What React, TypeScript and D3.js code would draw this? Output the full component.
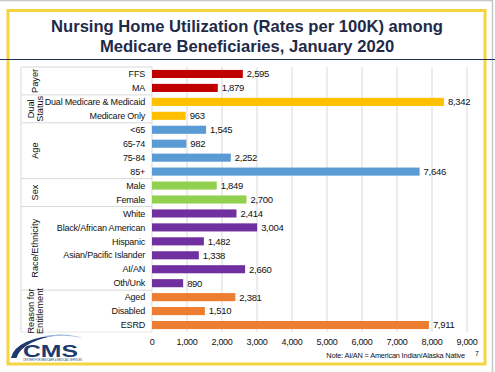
import React from "react";
import * as d3 from "d3";

const categories = [
  "FFS", "MA",
  "Dual Medicare & Medicaid", "Medicare Only",
  "<65", "65-74", "75-84", "85+",
  "Male", "Female",
  "White", "Black/African American", "Hispanic", "Asian/Pacific Islander", "AI/AN", "Oth/Unk",
  "Aged", "Disabled", "ESRD",
];
const values = [
  2595, 1879,
  8342, 963,
  1545, 982, 2252, 7646,
  1849, 2700,
  2414, 3004, 1482, 1338, 2660, 890,
  2381, 1510, 7911,
];
const groupNames = [["Payer"], ["Dual", "Status"], ["Age"], ["Sex"], ["Race/Ethnicity"], ["Reason for", "Entitlement"]];
const groupSizes = [2, 2, 4, 2, 6, 3];
const groupColors = ["#C00000", "#FFC000", "#5B9BD5", "#92D050", "#7030A0", "#ED7D31"];
const xTicks = [0, 1000, 2000, 3000, 4000, 5000, 6000, 7000, 8000, 9000];

const W = 495, H = 372;
const FONT = "'Liberation Sans', Arial, sans-serif";

export default function App() {
  const x = d3.scaleLinear().domain([0, 9000]).range([152, 467]);
  const y = d3.scaleBand<number>().domain(d3.range(categories.length)).range([67, 332]).paddingInner(0.42).paddingOuter(0.21);
  const step = y.step();
  const rowCenter = (i: number) => (y(i) as number) + y.bandwidth() / 2;
  const rowTop = (i: number) => rowCenter(i) - step / 2;

  const groupOf: number[] = [];
  const starts: number[] = [];
  let acc = 0;
  groupSizes.forEach((s, g) => { starts.push(acc); for (let k = 0; k < s; k++) groupOf.push(g); acc += s; });
  const fmt = d3.format(",");
  const tableLeft = 21;

  return (
    <svg width={W} height={H} style={{ position: "absolute", left: 0, top: 0 }} fontFamily={FONT}>
      <rect x={0} y={0} width={W} height={H} fill="#fff" />
      <line x1={0} y1={0.5} x2={493} y2={0.5} stroke="#c8c8c8" strokeWidth={1.5} />
      <line x1={492.5} y1={0} x2={492.5} y2={H} stroke="#c8c8c8" strokeWidth={1.5} />
      <rect x={8} y={10.5} width={477} height={353.5} fill="none" stroke="#F5D442" strokeWidth={3} />
      <line x1={0} y1={59.5} x2={495} y2={59.5} stroke="#1F3050" strokeWidth={1.2} />

      <text x={247} y={32} textAnchor="middle" fontWeight="bold" fontSize={16.6} fill="#1F2A48">Nursing Home Utilization (Rates per 100K) among</text>
      <text x={247} y={51.5} textAnchor="middle" fontWeight="bold" fontSize={16.6} fill="#1F2A48">Medicare Beneficiaries, January 2020</text>

      {xTicks.map((t) => (
        <line key={"g" + t} x1={x(t)} x2={x(t)} y1={67} y2={332} stroke="#D9D9D9" strokeWidth={1} />
      ))}

      {/* table lines */}
      <line x1={tableLeft} x2={tableLeft} y1={67} y2={332} stroke="#D9D9D9" />
      {starts.map((s, g) => (
        <line key={"h" + g} x1={tableLeft} x2={x(0)} y1={rowTop(s)} y2={rowTop(s)} stroke="#D9D9D9" />
      ))}
      <line x1={tableLeft} x2={x(0)} y1={332} y2={332} stroke="#E6E6E6" />

      {groupNames.map((lines, g) => {
        const s = starts[g];
        const e = s + groupSizes[g] - 1;
        const cy = (rowCenter(s) + rowCenter(e)) / 2;
        const cx = 35;
        return (
          <text key={"gn" + g} transform={`translate(${cx},${cy}) rotate(-90)`} textAnchor="middle" fontSize={9.2} fill="#111">
            {lines.map((l, k) => (
              <tspan key={k} x={0} dy={k === 0 ? (lines.length === 1 ? 3 : -1.5) : 9.5}>{l}</tspan>
            ))}
          </text>
        );
      })}

      {categories.map((c, i) => (
        <text key={"c" + i} x={145} y={rowCenter(i) + 3.2} textAnchor="end" fontSize={9} letterSpacing={-0.2} fill="#111">{c}</text>
      ))}

      {values.map((v, i) => (
        <g key={"b" + i}>
          <rect x={x(0)} y={y(i)} width={x(v) - x(0)} height={y.bandwidth()} fill={groupColors[groupOf[i]]} />
          <text x={x(v) + 4} y={rowCenter(i) + 3.4} fontSize={9.5} letterSpacing={-0.3} fill="#111">{fmt(v)}</text>
        </g>
      ))}

      {xTicks.map((t) => (
        <text key={"t" + t} x={x(t)} y={345} textAnchor="middle" fontSize={9} letterSpacing={-0.3} fill="#111">{fmt(t)}</text>
      ))}

      {/* CMS logo */}
      <path d="M 11 358 Q 15 338 62 334.5 Q 22 340 16.5 358 Z" fill="#1C3A6E" />
      <path d="M 44 336 Q 66 332 83 338 Q 64 334 48 337 Z" fill="#9DB9DC" />
      <text x={23} y={357.3} fontWeight="bold" fontSize={16} textLength={55} lengthAdjust="spacingAndGlyphs" fill="#1C3A6E">CMS</text>
      <text x={23} y={361} fontSize={2.6} textLength={59} lengthAdjust="spacingAndGlyphs" fill="#1C3A6E">CENTERS FOR MEDICARE &amp; MEDICAID SERVICES</text>

      <text x={465} y={358} textAnchor="end" fontSize={7.4} letterSpacing={-0.2} fill="#111">Note: AI/AN = American Indian/Alaska Native</text>
      <text x={477} y={355.5} textAnchor="middle" fontSize={7} fill="#111">7</text>
    </svg>
  );
}
